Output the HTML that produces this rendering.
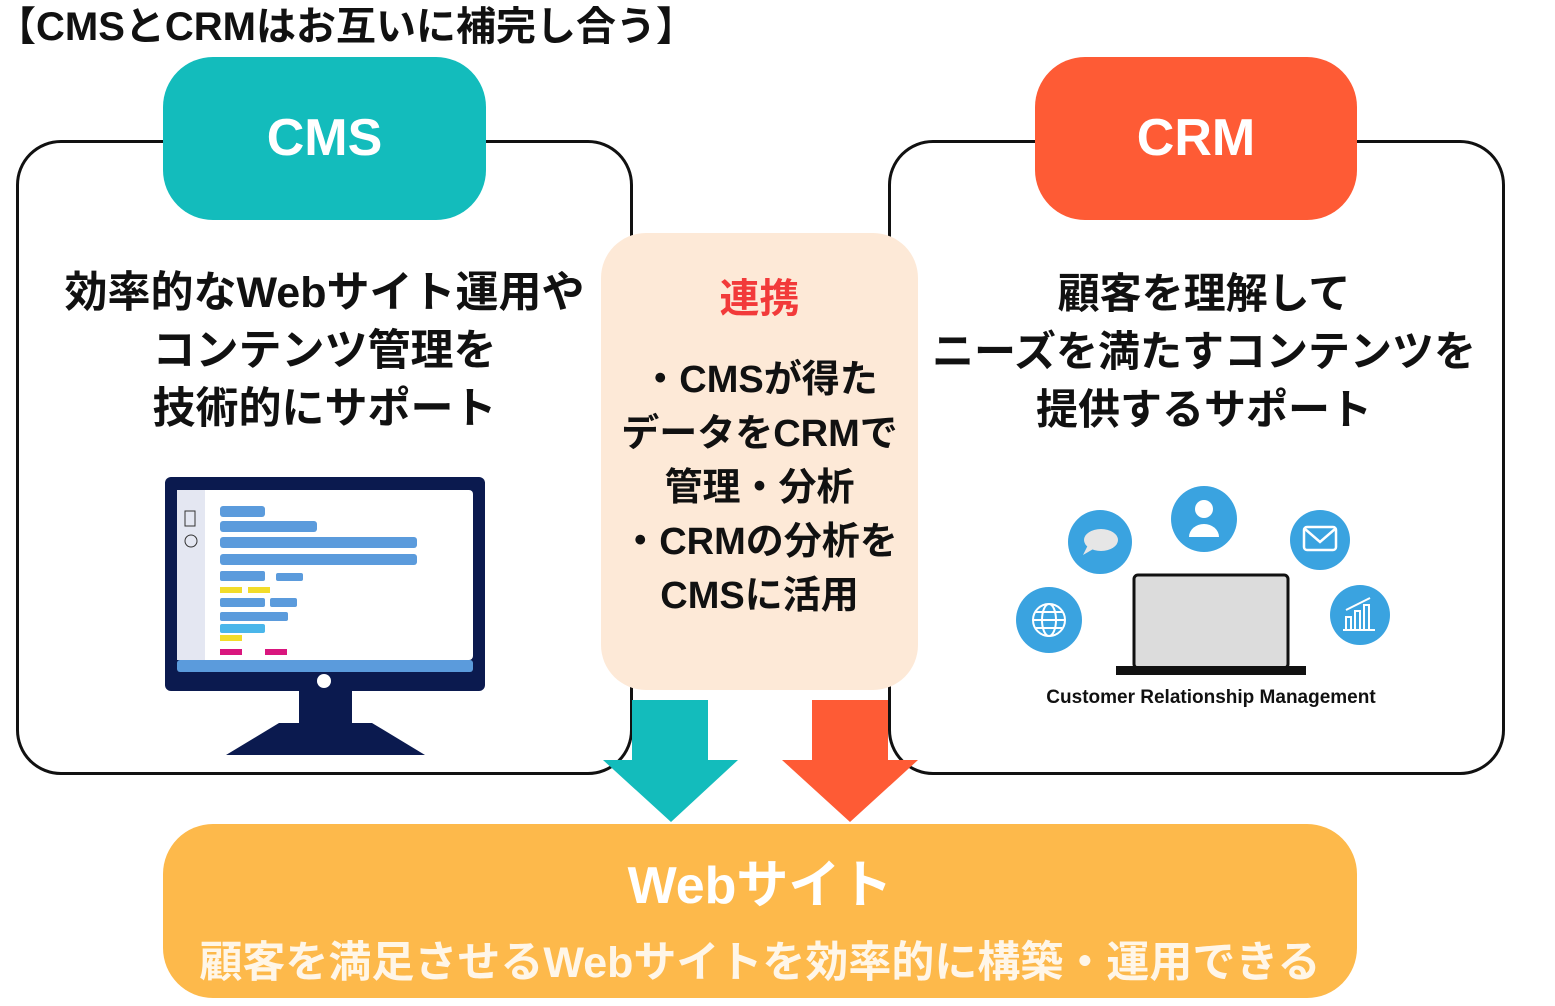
<!DOCTYPE html><html><head><meta charset="utf-8"><style>
body{margin:0;width:1555px;height:1006px;background:#fff;position:relative;overflow:hidden;font-family:"Liberation Sans","Noto Sans CJK JP",sans-serif;font-weight:bold}
.a{position:absolute}
.c{position:absolute;text-align:center;white-space:nowrap}
</style></head><body>
<div class="a" style="left:-4px;top:-6px;font-size:40px;color:#111">【CMSとCRMはお互いに補完し合う】</div>
<div class="a" style="left:16px;top:140px;width:611px;height:629px;border:3px solid #111;border-radius:45px"></div>
<div class="a" style="left:888px;top:140px;width:611px;height:629px;border:3px solid #111;border-radius:45px"></div>
<div class="a" style="left:163px;top:57px;width:323px;height:163px;background:#13bcbc;border-radius:50px"></div>
<div class="c" style="left:163px;width:323px;top:108px;font-size:52px;color:#fff">CMS</div>
<div class="a" style="left:1035px;top:57px;width:322px;height:163px;background:#fe5b35;border-radius:50px"></div>
<div class="c" style="left:1035px;width:322px;top:108px;font-size:52px;color:#fff">CRM</div>
<div class="c" style="left:16px;width:617px;top:264px;font-size:43px;line-height:58px;color:#111">効率的なWebサイト運用や<br>コンテンツ管理を<br>技術的にサポート</div>
<div class="c" style="left:884px;width:640px;top:265px;font-size:42px;line-height:58px;color:#111">顧客を理解して<br>ニーズを満たすコンテンツを<br>提供するサポート</div>
<div class="a" style="left:601px;top:233px;width:317px;height:457px;background:#fde9d7;border-radius:45px"></div>
<div class="c" style="left:601px;width:317px;top:266px;font-size:40px;color:#f23a3a">連携</div>
<div class="c" style="left:601px;width:317px;top:353px;font-size:38px;line-height:54px;color:#111">・CMSが得た<br>データをCRMで<br>管理・分析<br>・CRMの分析を<br>CMSに活用</div>
<svg class="a" style="left:0;top:0" width="1555" height="1006">
<polygon points="632,700 708,700 708,760 738,760 671,822 603,760 632,760" fill="#13bcbc"/>
<polygon points="812,700 888,700 888,760 918,760 850,822 782,760 812,760" fill="#fe5b35"/>
<rect x="165" y="477" width="320" height="214" rx="6" fill="#0b1a4f"/>
<rect x="177" y="490" width="296" height="170" rx="4" fill="#fff"/>
<rect x="177" y="490" width="28" height="170" fill="#e4e7f2"/>
<rect x="177" y="660" width="296" height="12" rx="3" fill="#5b9bdc"/>
<circle cx="324" cy="681" r="7" fill="#fff"/>
<polygon points="299,691 352,691 352,723 372,723 425,755 226,755 279,723 299,723" fill="#0b1a4f"/>
<g fill="#5b9bdc">
<rect x="220" y="506" width="45" height="11" rx="3"/><rect x="220" y="521" width="97" height="11" rx="3"/>
<rect x="220" y="537" width="197" height="11" rx="3"/><rect x="220" y="554" width="197" height="11" rx="3"/>
<rect x="220" y="571" width="45" height="10" rx="2"/><rect x="276" y="573" width="27" height="8" rx="2"/>
<rect x="220" y="598" width="45" height="9" rx="2"/><rect x="270" y="598" width="27" height="9" rx="2"/>
<rect x="220" y="612" width="68" height="9" rx="2"/></g>
<rect x="220" y="624" width="45" height="9" rx="2" fill="#4ab6ea"/>
<g fill="#f2dc2a"><rect x="220" y="587" width="22" height="6"/><rect x="248" y="587" width="22" height="6"/><rect x="220" y="635" width="22" height="6"/></g>
<g fill="#d9167e"><rect x="220" y="649" width="22" height="6"/><rect x="265" y="649" width="22" height="6"/></g>
<rect x="185" y="511" width="10" height="15" fill="none" stroke="#333" stroke-width="1"/>
<circle cx="191" cy="541" r="6" fill="none" stroke="#333" stroke-width="1"/>
<g fill="#3aa3e0"><circle cx="1100" cy="542" r="32"/><circle cx="1204" cy="519" r="33"/><circle cx="1320" cy="540" r="30"/><circle cx="1049" cy="620" r="33"/><circle cx="1360" cy="615" r="30"/></g>
<ellipse cx="1101" cy="540" rx="17" ry="11" fill="#e6e6e6"/><polygon points="1088,545 1083,555 1095,548" fill="#e6e6e6"/>
<circle cx="1204" cy="509" r="9" fill="#fff"/><path d="M1189,537 a15,13 0 0 1 30,0 z" fill="#fff"/>
<rect x="1304" y="527" width="32" height="23" rx="3" fill="none" stroke="#fff" stroke-width="2.5"/><polyline points="1305,529 1320,542 1335,529" fill="none" stroke="#fff" stroke-width="2.5"/>
<g fill="none" stroke="#fff" stroke-width="2"><circle cx="1049" cy="620" r="16"/><ellipse cx="1049" cy="620" rx="7" ry="16"/><line x1="1033" y1="620" x2="1065" y2="620"/><line x1="1036" y1="612" x2="1062" y2="612"/><line x1="1036" y1="628" x2="1062" y2="628"/>
<rect x="1346" y="617" width="5" height="13"/><rect x="1355" y="611" width="5" height="19"/><rect x="1364" y="605" width="5" height="25"/><line x1="1343" y1="630" x2="1375" y2="630"/><polyline points="1346,610 1370,598"/></g>
<rect x="1134" y="575" width="154" height="93" rx="4" fill="#dcdcdc" stroke="#111" stroke-width="3"/>
<rect x="1116" y="666" width="190" height="9" fill="#111"/>
</svg>
<div class="c" style="left:1011px;width:400px;top:687px;font-size:19px;color:#111">Customer Relationship Management</div>
<div class="a" style="left:163px;top:824px;width:1194px;height:174px;background:#fdb94b;border-radius:50px"></div>
<div class="c" style="left:163px;width:1194px;top:843px;font-size:52px;color:#fff">Webサイト</div>
<div class="c" style="left:163px;width:1194px;top:928px;font-size:43px;color:#fff6e8">顧客を満足させるWebサイトを効率的に構築・運用できる</div>
</body></html>
